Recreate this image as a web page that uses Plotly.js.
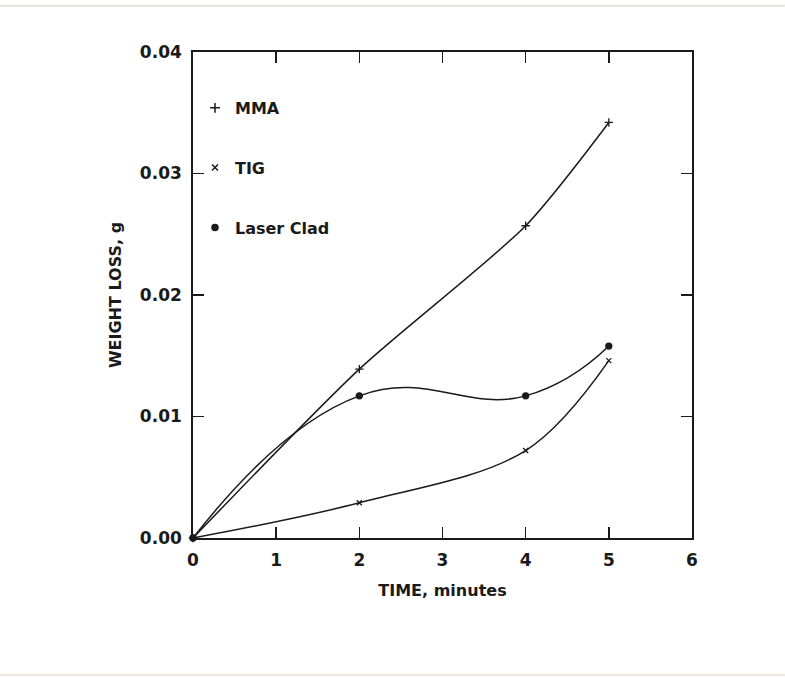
<!DOCTYPE html>
<html>
<head>
<meta charset="utf-8">
<script src="https://cdn.plot.ly/plotly-3.0.1.min.js"></script>
<style>html,body{margin:0;padding:0;background:#fff;}#chart{width:785px;height:678px;}</style>
</head>
<body>
<div id="chart"></div>
<script>
var time = [0, 2, 4, 5];
var mma = [0, 0.0139, 0.0257, 0.0342];
var tig = [0, 0.0029, 0.0072, 0.0146];
var laserClad = [0, 0.0117, 0.0117, 0.0158];
var seriesNames = ["MMA", "TIG", "Laser Clad"];
var xTicks = [0, 1, 2, 3, 4, 5, 6];
var yTicks = [0, 0.01, 0.02, 0.03, 0.04];

var ink = "#1a1a1a";
var fontFam = "'DejaVu Sans', Verdana, sans-serif";

function curve(y, sym, size, smooth) {
  return {
    x: time, y: y, type: "scatter", mode: "lines+markers",
    line: {shape: "spline", smoothing: smooth, color: ink, width: 1.5},
    marker: {symbol: sym, size: size, color: ink, line: {color: ink, width: 1.3}},
    showlegend: false, cliponaxis: false, hoverinfo: "x+y"
  };
}
function legendEntry(name, sym, size, grp) {
  return {
    x: [null], y: [null], type: "scatter", mode: "markers", name: name,
    legendgroup: grp,
    marker: {symbol: sym, size: size, color: ink, line: {color: ink, width: 1.5}}
  };
}

var data = [
  curve(mma, "cross-thin", 6, 0.7),
  curve(tig, "x-thin", 5, 1),
  curve(laserClad, "circle", 6, 1.3),
  legendEntry(seriesNames[0], "cross-thin", 7, "a"),
  legendEntry(seriesNames[1], "x-thin", 6, "b"),
  legendEntry(seriesNames[2], "circle", 6, "c")
];

var axisCommon = {
  showline: true, linecolor: ink, linewidth: 1.8, mirror: "ticks",
  ticks: "inside", ticklen: 11, tickwidth: 1.5, tickcolor: ink,
  showgrid: false, zeroline: false,
  tickfont: {family: fontFam, size: 17, color: ink, weight: "bold"}
};

var layout = {
  width: 785, height: 678,
  paper_bgcolor: "#fff", plot_bgcolor: "#fff",
  margin: {l: 193, r: 93, t: 52, b: 140},
  font: {family: fontFam, color: ink},
  xaxis: Object.assign({}, axisCommon, {
    range: [0, 6], tickvals: xTicks, ticktext: xTicks.map(String),
    ticklabelstandoff: 6,
    title: {text: "TIME, minutes", font: {family: fontFam, size: 16, color: ink, weight: "bold"}, standoff: 15}
  }),
  yaxis: Object.assign({}, axisCommon, {
    range: [0, 0.04], tickvals: yTicks, ticktext: yTicks.map(function(v){return v.toFixed(2);}),
    ticklabelstandoff: 6,
    title: {text: "WEIGHT LOSS, g", font: {family: fontFam, size: 16, color: ink, weight: "bold"}, standoff: 14}
  }),
  showlegend: true,
  legend: {
    x: 0.004, y: 0.92, xanchor: "left", yanchor: "top",
    bgcolor: "rgba(0,0,0,0)", borderwidth: 0,
    tracegroupgap: 36, itemwidth: 30,
    font: {family: fontFam, size: 16, color: ink, weight: "bold"}
  },
  shapes: [
    {type: "line", xref: "paper", yref: "paper", x0: -0.387, x1: 1.186, y0: 1.095, y1: 1.095, line: {color: "#e4e2da", width: 2}},
    {type: "line", xref: "paper", yref: "paper", x0: -0.387, x1: 1.186, y0: -0.282, y1: -0.282, line: {color: "#ece8dc", width: 2}}
  ]
};

Plotly.newPlot("chart", data, layout, {displayModeBar: false, staticPlot: true});
</script>
</body>
</html>
